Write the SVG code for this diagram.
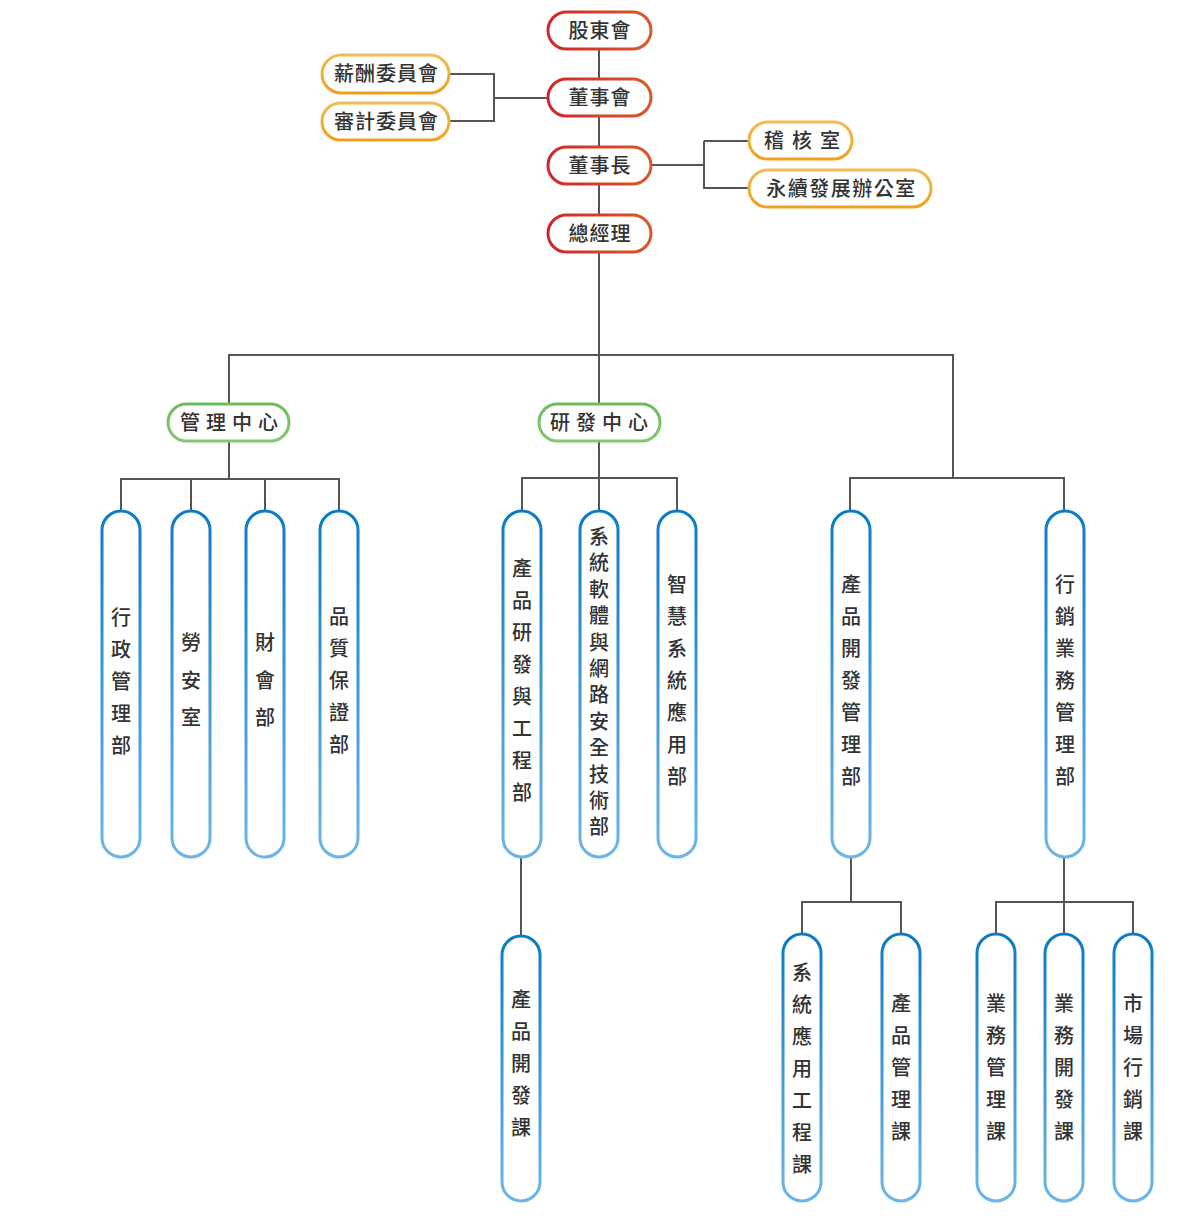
<svg xmlns="http://www.w3.org/2000/svg" width="1204" height="1222" viewBox="0 0 1204 1222">
<defs>
<linearGradient id="gRed" x1="0" y1="0" x2="1" y2="0"><stop offset="0" stop-color="#d0262c"/><stop offset="1" stop-color="#d9582a"/></linearGradient>
<linearGradient id="gOra" x1="0" y1="0" x2="0" y2="1"><stop offset="0" stop-color="#f2bb55"/><stop offset="1" stop-color="#eea11c"/></linearGradient>
<linearGradient id="gGrn" x1="0" y1="0" x2="0" y2="1"><stop offset="0" stop-color="#6dbb5c"/><stop offset="1" stop-color="#85c774"/></linearGradient>
<linearGradient id="gBlu" x1="0" y1="0" x2="0" y2="1"><stop offset="0" stop-color="#0a7bc4"/><stop offset="1" stop-color="#6cb6e6"/></linearGradient>
<style>
text{font-family:"Noto Sans CJK TC","Noto Sans CJK SC",sans-serif;font-size:20px;font-weight:500;fill:#333;}
.h{text-anchor:middle;}
.v{text-anchor:middle;}
.red{fill:#fff;stroke:url(#gRed);stroke-width:3;}
.ora{fill:#fff;stroke:url(#gOra);stroke-width:3;}
.grn{fill:#fff;stroke:url(#gGrn);stroke-width:3;}
.blu{fill:#fff;stroke:url(#gBlu);stroke-width:3;}
.c{fill:none;stroke:#555;stroke-width:2;}
</style>
</defs>
<g id="connectors">
<path class="c" d="M599 49V79M599 116V147M599 184V215M599 252V404"/>
<path class="c" d="M449 74H494V121H449M494 98H548"/>
<path class="c" d="M651 165H704M704 141H749M704 141V188H749"/>
<path class="c" d="M229 404V355H953V478"/>
<path class="c" d="M229 441V479M121 511V479H339V511M191 479V511M265 479V511"/>
<path class="c" d="M599 441V478M522 511V478H677V511M599 478V511"/>
<path class="c" d="M850 511V478H1064V511"/>
<path class="c" d="M521 857V936"/>
<path class="c" d="M851 857V902M802 934V902H901V934"/>
<path class="c" d="M1064 857V934M996 934V902H1133V934"/>
</g>
<g id="n-gudonghui"><rect class="red" x="548" y="12" width="103" height="37" rx="18.5"/><text class="h" x="600" y="38" letter-spacing="1">股東會</text></g>
<g id="n-dongshihui"><rect class="red" x="548" y="79" width="103" height="37" rx="18.5"/><text class="h" x="600" y="105" letter-spacing="1">董事會</text></g>
<g id="n-dongshizhang"><rect class="red" x="548" y="147" width="103" height="37" rx="18.5"/><text class="h" x="600" y="173" letter-spacing="1">董事長</text></g>
<g id="n-zongjingli"><rect class="red" x="548" y="215" width="103" height="37" rx="18.5"/><text class="h" x="600" y="241" letter-spacing="1">總經理</text></g>
<g id="n-xinchou"><rect class="ora" x="322" y="55" width="127" height="38" rx="19"/><text class="h" x="386.5" y="81" letter-spacing="1">薪酬委員會</text></g>
<g id="n-shenji"><rect class="ora" x="322" y="103" width="127" height="37" rx="18.5"/><text class="h" x="386.5" y="129" letter-spacing="1">審計委員會</text></g>
<g id="n-jihe"><rect class="ora" x="749" y="122" width="103" height="37" rx="18.5"/><text class="h" x="806" y="148" letter-spacing="8">稽核室</text></g>
<g id="n-yongxu"><rect class="ora" x="749" y="170" width="182" height="37" rx="18.5"/><text class="h" x="841.5" y="196" letter-spacing="1.5">永續發展辦公室</text></g>
<g id="n-guanli"><rect class="grn" x="168" y="404" width="121" height="37" rx="18.5"/><text class="h" x="232" y="430" letter-spacing="6">管理中心</text></g>
<g id="n-yanfa"><rect class="grn" x="539" y="404" width="121" height="37" rx="18.5"/><text class="h" x="602" y="430" letter-spacing="6">研發中心</text></g>

<g id="n-xingzheng"><rect class="blu" x="102" y="511" width="38" height="346" rx="19"/><text class="v"><tspan x="121" y="625">行</tspan><tspan x="121" y="657">政</tspan><tspan x="121" y="689">管</tspan><tspan x="121" y="721">理</tspan><tspan x="121" y="753">部</tspan></text></g>
<g id="n-laoan"><rect class="blu" x="172" y="511" width="38" height="346" rx="19"/><text class="v"><tspan x="191" y="650">勞</tspan><tspan x="191" y="688">安</tspan><tspan x="191" y="725">室</tspan></text></g>
<g id="n-caihui"><rect class="blu" x="246" y="511" width="38" height="346" rx="19"/><text class="v"><tspan x="265" y="650">財</tspan><tspan x="265" y="688">會</tspan><tspan x="265" y="725">部</tspan></text></g>
<g id="n-pinzhi"><rect class="blu" x="320" y="511" width="38" height="346" rx="19"/><text class="v"><tspan x="339" y="624">品</tspan><tspan x="339" y="656">質</tspan><tspan x="339" y="688">保</tspan><tspan x="339" y="720">證</tspan><tspan x="339" y="752">部</tspan></text></g>

<g id="n-chanpinyanfa"><rect class="blu" x="503" y="511" width="38" height="346" rx="19"/><text class="v"><tspan x="522" y="576">產</tspan><tspan x="522" y="608">品</tspan><tspan x="522" y="640">研</tspan><tspan x="522" y="672">發</tspan><tspan x="522" y="704">與</tspan><tspan x="522" y="736">工</tspan><tspan x="522" y="768">程</tspan><tspan x="522" y="800">部</tspan></text></g>
<g id="n-xitongruanti"><rect class="blu" x="580" y="511" width="38" height="346" rx="19"/><text class="v"><tspan x="599" y="544">系</tspan><tspan x="599" y="570.4">統</tspan><tspan x="599" y="596.8">軟</tspan><tspan x="599" y="623.2">體</tspan><tspan x="599" y="649.6">與</tspan><tspan x="599" y="676">網</tspan><tspan x="599" y="702.4">路</tspan><tspan x="599" y="728.8">安</tspan><tspan x="599" y="755.2">全</tspan><tspan x="599" y="781.6">技</tspan><tspan x="599" y="808">術</tspan><tspan x="599" y="834.4">部</tspan></text></g>
<g id="n-zhihui"><rect class="blu" x="658" y="511" width="38" height="346" rx="19"/><text class="v"><tspan x="677" y="592">智</tspan><tspan x="677" y="624">慧</tspan><tspan x="677" y="656">系</tspan><tspan x="677" y="688">統</tspan><tspan x="677" y="720">應</tspan><tspan x="677" y="752">用</tspan><tspan x="677" y="784">部</tspan></text></g>
<g id="n-chanpinkaifaguanli"><rect class="blu" x="832" y="511" width="38" height="346" rx="19"/><text class="v"><tspan x="851" y="592">產</tspan><tspan x="851" y="624">品</tspan><tspan x="851" y="656">開</tspan><tspan x="851" y="688">發</tspan><tspan x="851" y="720">管</tspan><tspan x="851" y="752">理</tspan><tspan x="851" y="784">部</tspan></text></g>
<g id="n-xingxiao"><rect class="blu" x="1046" y="511" width="38" height="346" rx="19"/><text class="v"><tspan x="1065" y="592">行</tspan><tspan x="1065" y="624">銷</tspan><tspan x="1065" y="656">業</tspan><tspan x="1065" y="688">務</tspan><tspan x="1065" y="720">管</tspan><tspan x="1065" y="752">理</tspan><tspan x="1065" y="784">部</tspan></text></g>

<g id="n-chanpinkaifake"><rect class="blu" x="502" y="936" width="38" height="265" rx="19"/><text class="v"><tspan x="521" y="1007">產</tspan><tspan x="521" y="1039">品</tspan><tspan x="521" y="1071">開</tspan><tspan x="521" y="1103">發</tspan><tspan x="521" y="1135">課</tspan></text></g>
<g id="n-xitongyingyong"><rect class="blu" x="783" y="934" width="38" height="267" rx="19"/><text class="v"><tspan x="802" y="980">系</tspan><tspan x="802" y="1012">統</tspan><tspan x="802" y="1044">應</tspan><tspan x="802" y="1076">用</tspan><tspan x="802" y="1108">工</tspan><tspan x="802" y="1140">程</tspan><tspan x="802" y="1172">課</tspan></text></g>
<g id="n-chanpinguanli"><rect class="blu" x="882" y="934" width="38" height="267" rx="19"/><text class="v"><tspan x="901" y="1011">產</tspan><tspan x="901" y="1043">品</tspan><tspan x="901" y="1075">管</tspan><tspan x="901" y="1107">理</tspan><tspan x="901" y="1139">課</tspan></text></g>
<g id="n-yewuguanli"><rect class="blu" x="977" y="934" width="38" height="267" rx="19"/><text class="v"><tspan x="996" y="1011">業</tspan><tspan x="996" y="1043">務</tspan><tspan x="996" y="1075">管</tspan><tspan x="996" y="1107">理</tspan><tspan x="996" y="1139">課</tspan></text></g>
<g id="n-yewukaifa"><rect class="blu" x="1045" y="934" width="38" height="267" rx="19"/><text class="v"><tspan x="1064" y="1011">業</tspan><tspan x="1064" y="1043">務</tspan><tspan x="1064" y="1075">開</tspan><tspan x="1064" y="1107">發</tspan><tspan x="1064" y="1139">課</tspan></text></g>
<g id="n-shichang"><rect class="blu" x="1114" y="934" width="38" height="267" rx="19"/><text class="v"><tspan x="1133" y="1011">市</tspan><tspan x="1133" y="1043">場</tspan><tspan x="1133" y="1075">行</tspan><tspan x="1133" y="1107">銷</tspan><tspan x="1133" y="1139">課</tspan></text></g>
</svg>
